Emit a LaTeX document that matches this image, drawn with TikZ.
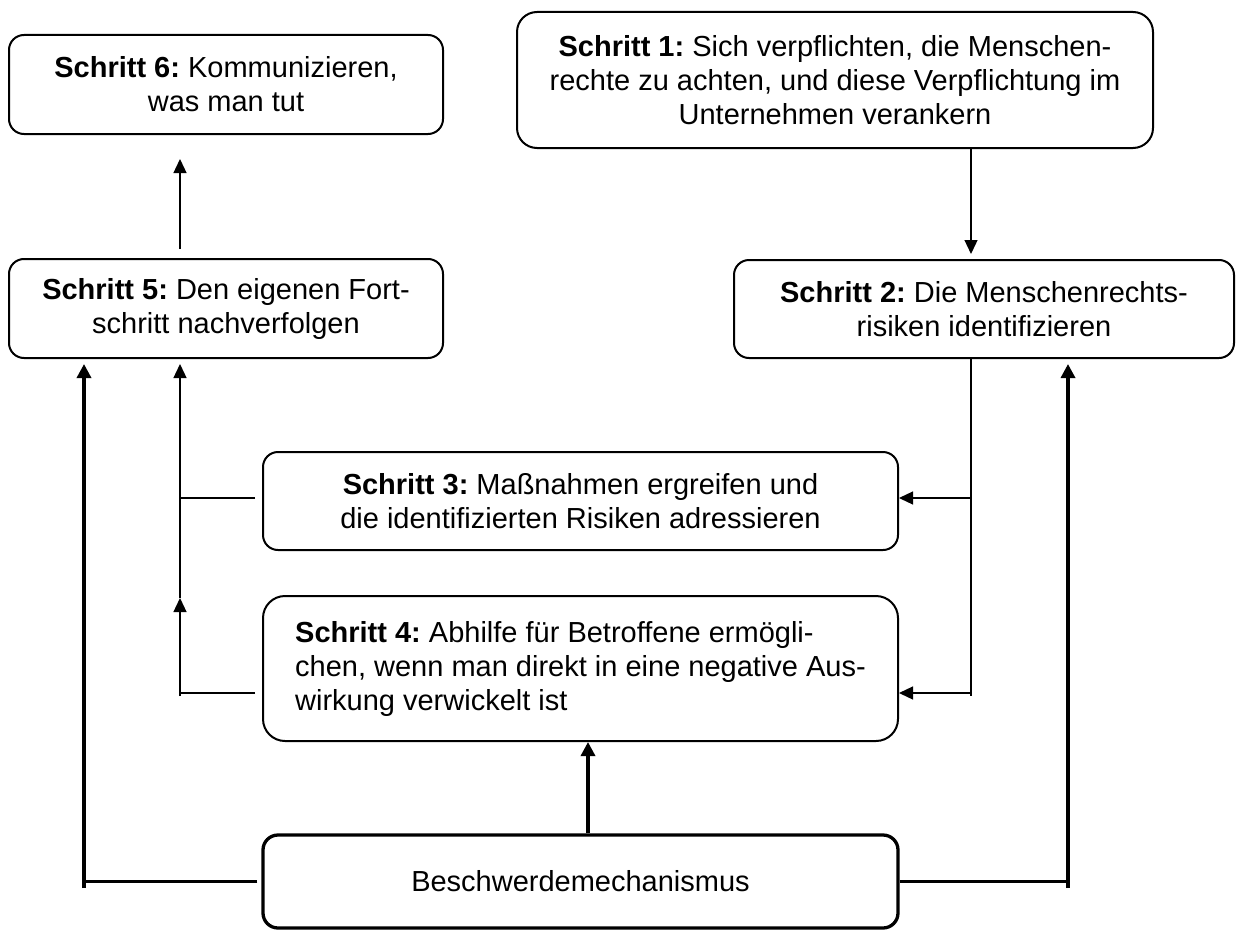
\documentclass[tikz,border=0pt]{standalone}
\usepackage{fontspec}
\setmainfont{Liberation Sans}
\usetikzlibrary{arrows.meta}
\frenchspacing
\begin{document}
\begin{tikzpicture}[x=1pt,y=-1pt,
  box/.style={draw, line width=2pt, rounded corners=15pt, inner sep=0pt, fill=white,
              align=center, font=\fontsize{29}{34}\selectfont\frenchspacing},
  thinline/.style={line width=1.3pt},
  thickline/.style={line width=3.3pt},
  thinarr/.style={line width=1.3pt, -{Triangle[length=14pt,width=13pt]}},
  thickarr/.style={line width=3.3pt, -{Triangle[length=14pt,width=14pt]}}]
\useasboundingbox (0,0) rectangle (1238,931);

% trunk positions
\coordinate (L1) at (84,0);
\coordinate (L2) at (180,0);
\coordinate (R1) at (971,0);
\coordinate (R2) at (1068,0);
\coordinate (MX) at (588,0);
\coordinate (a3) at (0,498);
\coordinate (a4) at (0,693);
\coordinate (lb) at (180,696);
\coordinate (lm) at (180,598);
\coordinate (rb) at (971,696);
\coordinate (lt) at (84,888);
\coordinate (rt) at (1068,888);

% boxes
\node[box, minimum width=434pt, minimum height=99pt] (s6) at (226,84.5)
  {{\bfseries Schritt 6:} Kommunizieren,\\ was man tut};
\node[box, rounded corners=20pt, minimum width=636pt, minimum height=136pt] (s1) at (835,80)
  {{\bfseries Schritt 1:} Sich verpflichten, die Menschen-\\
   rechte zu achten, und diese Verpflichtung im\\ Unternehmen verankern};
\node[box, minimum width=500pt, minimum height=98pt] (s2) at (984,309)
  {{\bfseries Schritt 2:} Die Menschenrechts-\\ risiken identifizieren};
\node[box, minimum width=434pt, minimum height=99pt] (s5) at (226,308.5)
  {{\bfseries Schritt 5:} Den eigenen Fort-\\ schritt nachverfolgen};
\node[box, minimum width=635pt, minimum height=98pt] (s3) at (580.5,501)
  {{\bfseries Schritt 3:} Maßnahmen ergreifen und\\ die identifizierten Risiken adressieren};
\node[box, rounded corners=22pt, align=left, minimum width=635pt, minimum height=145pt] (s4) at (580.5,668.5)
  {{\bfseries Schritt 4:} Abhilfe für Betroffene ermögli-\\
   chen, wenn man direkt in eine negative Aus-\\ wirkung verwickelt ist};
\node[box, line width=3.3pt, minimum width=635pt, minimum height=93pt] (b) at (580.5,881.5)
  {Beschwerdemechanismus};

% step 5 -> step 6
\draw[thinarr, shorten <=9pt, shorten >=24pt] (s5.north -| L2) -- (s6.south -| L2);
% step 1 -> step 2
\draw[thinarr, shorten >=5pt] (s1.south -| R1) -- (s2.north -| R1);

% right thin trunk from step 2 to steps 3 and 4
\draw[thinline] (s2.south -| R1) -- (rb);
\draw[thinarr] (R1 |- a3) -- (s3.east |- a3);
\draw[thinarr] (R1 |- a4) -- (s4.east |- a4);

% left thin trunk from steps 3 and 4 to step 5
\draw[thinline, shorten <=7pt] (s3.west |- a3) -- (L2 |- a3);
\draw[thinline, shorten <=7pt] (s4.west |- a4) -- (L2 |- a4);
\draw[thinarr] (lb) -- (lm);
\draw[thinarr, shorten >=5pt] (lm) -- (L2 |- s5.south);

% grievance mechanism
\draw[thickline, shorten <=4pt] (b.west) -- (L1 |- b.west);
\draw[thickarr, shorten >=5pt] (lt) -- (L1 |- s5.south);
\draw[thickline] (b.east) -- (R2 |- b.east);
\draw[thickarr, shorten >=5pt] (rt) -- (R2 |- s2.south);
\draw[thickarr] (b.north -| MX) -- (s4.south -| MX);
\end{tikzpicture}
\end{document}
